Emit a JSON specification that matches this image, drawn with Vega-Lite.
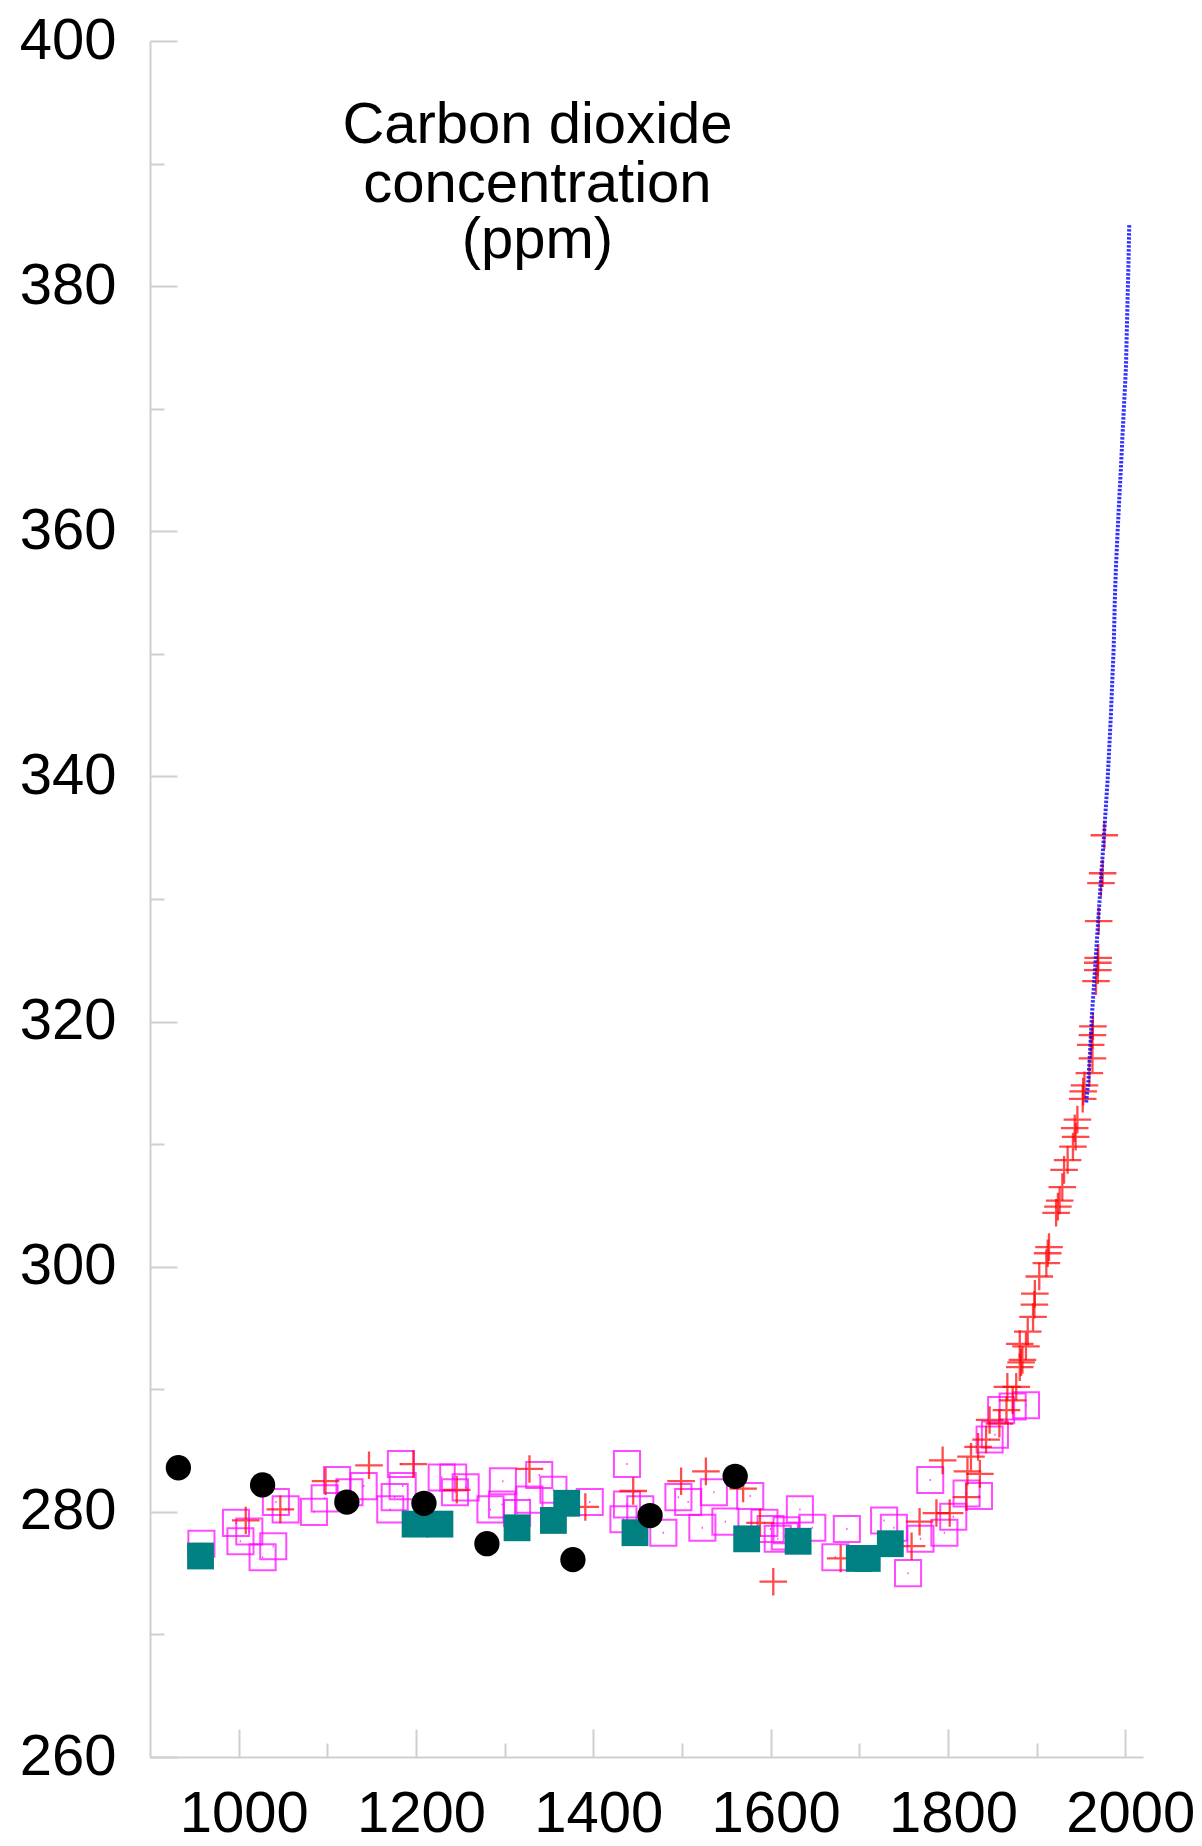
{
  "$schema": "https://vega.github.io/schema/vega-lite/v6.json",
  "width": 993,
  "height": 1716,
  "autosize": {"type": "none"},
  "padding": {"left": 150, "top": 41, "right": 59, "bottom": 89},
  "background": "white",
  "config": {
    "view": {"stroke": null},
    "axis": {
      "grid": false,
      "domainColor": "#cfcfcf",
      "tickColor": "#cfcfcf",
      "domainWidth": 2,
      "tickWidth": 2,
      "labelFont": "Liberation Sans",
      "labelFontSize": 58,
      "labelColor": "#000000",
      "labelOverlap": false,
      "labelFlush": false,
      "title": null
    }
  },
  "datasets": {
    "magenta": [
      {"year": 958, "ppm": 277.4}, {"year": 997, "ppm": 279.1}, {"year": 1002, "ppm": 277.6},
      {"year": 1012, "ppm": 278.4}, {"year": 1027, "ppm": 276.3}, {"year": 1039, "ppm": 277.2},
      {"year": 1042, "ppm": 280.8}, {"year": 1053, "ppm": 280.2}, {"year": 1085, "ppm": 280.0},
      {"year": 1097, "ppm": 281.1}, {"year": 1111, "ppm": 282.6}, {"year": 1125, "ppm": 281.6},
      {"year": 1141, "ppm": 282.1}, {"year": 1171, "ppm": 280.2}, {"year": 1176, "ppm": 281.2},
      {"year": 1183, "ppm": 283.9}, {"year": 1185, "ppm": 282.1}, {"year": 1229, "ppm": 282.8},
      {"year": 1242, "ppm": 282.8}, {"year": 1244, "ppm": 281.6}, {"year": 1256, "ppm": 282.0},
      {"year": 1284, "ppm": 280.2}, {"year": 1298, "ppm": 282.5}, {"year": 1297, "ppm": 280.6},
      {"year": 1314, "ppm": 279.9}, {"year": 1328, "ppm": 281.0}, {"year": 1339, "ppm": 283.0},
      {"year": 1355, "ppm": 281.8}, {"year": 1396, "ppm": 280.8}, {"year": 1438, "ppm": 283.9},
      {"year": 1438, "ppm": 280.6}, {"year": 1434, "ppm": 279.4}, {"year": 1453, "ppm": 280.2},
      {"year": 1479, "ppm": 278.3}, {"year": 1496, "ppm": 281.2}, {"year": 1507, "ppm": 280.8},
      {"year": 1523, "ppm": 278.7}, {"year": 1536, "ppm": 281.6}, {"year": 1549, "ppm": 279.2},
      {"year": 1577, "ppm": 281.3}, {"year": 1593, "ppm": 279.1}, {"year": 1600, "ppm": 278.6},
      {"year": 1608, "ppm": 277.8}, {"year": 1616, "ppm": 278.0}, {"year": 1618, "ppm": 278.5},
      {"year": 1633, "ppm": 280.2}, {"year": 1647, "ppm": 278.7}, {"year": 1673, "ppm": 276.3},
      {"year": 1686, "ppm": 278.6}, {"year": 1728, "ppm": 279.3}, {"year": 1739, "ppm": 278.7},
      {"year": 1755, "ppm": 275.0}, {"year": 1769, "ppm": 277.8}, {"year": 1780, "ppm": 282.6},
      {"year": 1796, "ppm": 278.3}, {"year": 1806, "ppm": 279.6}, {"year": 1821, "ppm": 281.5},
      {"year": 1835, "ppm": 281.3}, {"year": 1847, "ppm": 285.9}, {"year": 1853, "ppm": 286.3},
      {"year": 1860, "ppm": 288.3}, {"year": 1873, "ppm": 288.6}, {"year": 1888, "ppm": 288.7}
    ],
    "red": [
      {"year": 1008, "ppm": 279.3}, {"year": 1047, "ppm": 280.2}, {"year": 1098, "ppm": 282.5},
      {"year": 1147, "ppm": 283.8}, {"year": 1197, "ppm": 283.9}, {"year": 1246, "ppm": 281.8},
      {"year": 1328, "ppm": 283.5}, {"year": 1391, "ppm": 280.4}, {"year": 1445, "ppm": 281.7},
      {"year": 1499, "ppm": 282.5}, {"year": 1527, "ppm": 283.3}, {"year": 1569, "ppm": 281.9},
      {"year": 1588, "ppm": 279.1}, {"year": 1603, "ppm": 274.3}, {"year": 1679, "ppm": 276.2},
      {"year": 1759, "ppm": 277.2}, {"year": 1768, "ppm": 279.2}, {"year": 1794, "ppm": 284.2},
      {"year": 1787, "ppm": 279.9}, {"year": 1802, "ppm": 279.9}, {"year": 1821, "ppm": 281.2},
      {"year": 1822, "ppm": 283.3}, {"year": 1836, "ppm": 283.1}, {"year": 1826, "ppm": 284.5},
      {"year": 1834, "ppm": 285.3}, {"year": 1843, "ppm": 285.9}, {"year": 1847, "ppm": 287.5},
      {"year": 1858, "ppm": 287.2}, {"year": 1866, "ppm": 288.3}, {"year": 1873, "ppm": 289.1},
      {"year": 1877, "ppm": 290.2}, {"year": 1881, "ppm": 291.8}, {"year": 1884, "ppm": 292.4},
      {"year": 1888, "ppm": 293.5}, {"year": 1867, "ppm": 290.2}, {"year": 1882.5, "ppm": 292.2},
      {"year": 1881, "ppm": 293.7}, {"year": 1890, "ppm": 294.7}, {"year": 1896, "ppm": 295.9},
      {"year": 1897.5, "ppm": 296.9}, {"year": 1898, "ppm": 297.8}, {"year": 1903, "ppm": 299.2},
      {"year": 1911, "ppm": 300.3}, {"year": 1912.5, "ppm": 301.1}, {"year": 1914, "ppm": 301.6},
      {"year": 1922, "ppm": 304.4}, {"year": 1924, "ppm": 304.9}, {"year": 1926, "ppm": 305.4},
      {"year": 1929, "ppm": 306.5}, {"year": 1931, "ppm": 307.9}, {"year": 1935, "ppm": 308.7},
      {"year": 1941, "ppm": 309.8}, {"year": 1944, "ppm": 310.6}, {"year": 1943, "ppm": 311.3},
      {"year": 1946, "ppm": 312.0}, {"year": 1952, "ppm": 313.7}, {"year": 1952.5, "ppm": 314.3},
      {"year": 1954, "ppm": 314.8}, {"year": 1959.5, "ppm": 315.8}, {"year": 1963, "ppm": 317.0},
      {"year": 1961, "ppm": 318.1}, {"year": 1963, "ppm": 318.9}, {"year": 1963.5, "ppm": 319.6},
      {"year": 1967, "ppm": 323.3}, {"year": 1969, "ppm": 324.2}, {"year": 1969, "ppm": 324.8},
      {"year": 1969.5, "ppm": 325.2}, {"year": 1970, "ppm": 328.2}, {"year": 1972.6, "ppm": 331.3},
      {"year": 1974.5, "ppm": 332.1}, {"year": 1976.4, "ppm": 335.2}
    ],
    "teal": [
      {"year": 957, "ppm": 276.4}, {"year": 1199, "ppm": 279.0}, {"year": 1227, "ppm": 279.0},
      {"year": 1314, "ppm": 278.7}, {"year": 1355, "ppm": 279.3}, {"year": 1370, "ppm": 280.7},
      {"year": 1447, "ppm": 278.3}, {"year": 1573, "ppm": 277.8}, {"year": 1631, "ppm": 277.6},
      {"year": 1700, "ppm": 276.2}, {"year": 1709, "ppm": 276.2}, {"year": 1735, "ppm": 277.4}
    ],
    "black": [
      {"year": 932, "ppm": 283.6}, {"year": 1027, "ppm": 282.2}, {"year": 1122, "ppm": 280.8},
      {"year": 1209, "ppm": 280.7}, {"year": 1280, "ppm": 277.4}, {"year": 1377, "ppm": 276.1},
      {"year": 1464, "ppm": 279.7}, {"year": 1560, "ppm": 282.9}
    ],
    "blue": [
      {"year": 1955.9, "ppm": 313.4}, {"year": 1958.4, "ppm": 315.2}, {"year": 1960.4, "ppm": 317.7},
      {"year": 1962.3, "ppm": 320.4}, {"year": 1965.1, "ppm": 323.4}, {"year": 1968.8, "ppm": 327.5},
      {"year": 1972.6, "ppm": 331.6}, {"year": 1976.4, "ppm": 335.6}, {"year": 1980.1, "ppm": 339.7},
      {"year": 1982.0, "ppm": 342.4}, {"year": 1983.9, "ppm": 345.2}, {"year": 1985.4, "ppm": 347.9},
      {"year": 1987.0, "ppm": 350.6}, {"year": 1988.2, "ppm": 354.4}, {"year": 1989.5, "ppm": 357.1},
      {"year": 1991.3, "ppm": 359.9}, {"year": 1993.2, "ppm": 362.6}, {"year": 1995.2, "ppm": 365.3},
      {"year": 1997.0, "ppm": 368.0}, {"year": 1998.9, "ppm": 370.7}, {"year": 2000.8, "ppm": 373.4},
      {"year": 2001.7, "ppm": 376.2}, {"year": 2002.6, "ppm": 378.9}, {"year": 2003.7, "ppm": 382.1},
      {"year": 2004.5, "ppm": 385.0}
    ],
    "caption": [
      {"line": "Carbon dioxide", "order": 1},
      {"line": "concentration", "order": 2},
      {"line": "(ppm)", "order": 3}
    ]
  },
  "layer": [
    {
      "data": {"name": "magenta"},
      "mark": {"type": "point", "shape": "M-1,-1H1V1H-1ZM-0.05,0H0.05", "filled": false, "stroke": "#ff00ff", "strokeWidth": 2, "strokeOpacity": 1, "size": 680},
      "encoding": {
        "x": {"field": "year", "type": "quantitative", "scale": {"domain": [900, 2020], "nice": false, "zero": false},
          "axis": {"orient": "bottom", "values": [1000, 1200, 1400, 1600, 1800, 2000], "format": "d", "tickSize": -28, "labelPadding": 56, "labelOffset": 5}},
        "y": {"field": "ppm", "type": "quantitative", "scale": {"domain": [260, 400], "nice": false, "zero": false},
          "axis": {"orient": "left", "values": [260, 280, 300, 320, 340, 360, 380, 400], "format": "d", "tickSize": -27, "labelPadding": 61}}
      }
    },
    {
      "data": {"name": "red"},
      "mark": {"type": "point", "shape": "M-1,0H1M0,-1V1", "filled": false, "stroke": "#ff0000", "strokeWidth": 2.3, "size": 760},
      "encoding": {
        "x": {"field": "year", "type": "quantitative",
          "axis": {"orient": "bottom", "values": [1100, 1300, 1500, 1700, 1900], "tickSize": -14, "labels": false, "domain": false}},
        "y": {"field": "ppm", "type": "quantitative",
          "axis": {"orient": "left", "values": [270, 290, 310, 330, 350, 370, 390], "tickSize": -14, "labels": false, "domain": false}}
      }
    },
    {
      "data": {"name": "teal"},
      "mark": {"type": "square", "color": "#008080", "opacity": 1, "size": 720},
      "encoding": {
        "x": {"field": "year", "type": "quantitative", "axis": null},
        "y": {"field": "ppm", "type": "quantitative", "axis": null}
      }
    },
    {
      "data": {"name": "black"},
      "mark": {"type": "circle", "color": "#000000", "opacity": 1, "size": 640},
      "encoding": {
        "x": {"field": "year", "type": "quantitative", "axis": null},
        "y": {"field": "ppm", "type": "quantitative", "axis": null}
      }
    },
    {
      "data": {"name": "blue"},
      "mark": {"type": "line", "color": "#0000ff", "strokeWidth": 4, "strokeDash": [2.5, 1.5], "opacity": 0.8},
      "encoding": {
        "x": {"field": "year", "type": "quantitative", "axis": null},
        "y": {"field": "ppm", "type": "quantitative", "axis": null},
        "order": {"field": "ppm", "type": "quantitative"}
      }
    },
    {
      "data": {"name": "caption"},
      "transform": [{"filter": "datum.order === 1"}],
      "mark": {"type": "text", "font": "Liberation Sans", "fontSize": 58, "align": "center", "baseline": "alphabetic", "color": "#000000"},
      "encoding": {
        "text": {"field": "line"},
        "x": {"datum": 1337, "type": "quantitative", "axis": null},
        "y": {"datum": 391.66, "type": "quantitative", "axis": null}
      }
    },
    {
      "data": {"name": "caption"},
      "transform": [{"filter": "datum.order === 2"}],
      "mark": {"type": "text", "font": "Liberation Sans", "fontSize": 58, "align": "center", "baseline": "alphabetic", "color": "#000000"},
      "encoding": {
        "text": {"field": "line"},
        "x": {"datum": 1337, "type": "quantitative", "axis": null},
        "y": {"datum": 386.89, "type": "quantitative", "axis": null}
      }
    },
    {
      "data": {"name": "caption"},
      "transform": [{"filter": "datum.order === 3"}],
      "mark": {"type": "text", "font": "Liberation Sans", "fontSize": 58, "align": "center", "baseline": "alphabetic", "color": "#000000"},
      "encoding": {
        "text": {"field": "line"},
        "x": {"datum": 1337, "type": "quantitative", "axis": null},
        "y": {"datum": 382.27, "type": "quantitative", "axis": null}
      }
    }
  ],
  "resolve": {"axis": {"x": "independent", "y": "independent"}}
}
